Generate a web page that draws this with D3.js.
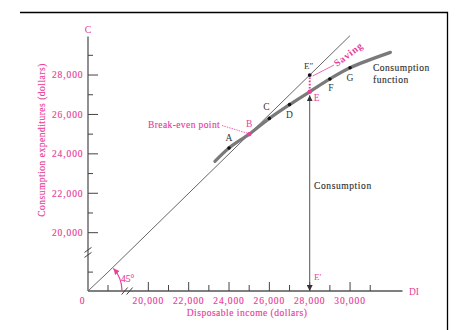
<!DOCTYPE html>
<html>
<head>
<meta charset="utf-8">
<script src="https://cdn.jsdelivr.net/npm/d3@7"></script>
<style>
  body { margin: 0; background: #fff; }
  svg { display: block; font-family: "Liberation Serif", "Times New Roman", serif; }
  text { paint-order: stroke; stroke-width: 0.15px; }
</style>
</head>
<body>
<svg id="chart"></svg>
<script>
const width = 464;
const height = 330;
const pink = "#e8409a";
const ink = "#333";

// consumption schedule (disposable income, consumption)
const pointNames = ["A", "B", "C", "D", "E", "F", "G"];
const incomes = [24000, 25000, 26000, 27000, 28000, 29000, 30000];
const spending = [24300, 25000, 25800, 26500, 27150, 27800, 28370];
// ends of the drawn consumption curve
const curveStart = [23300, 23620];
const curveEnd = [32000, 29150];

const xTickLabels = [20000, 22000, 24000, 26000, 28000, 30000];
const xMinorTicks = [18000, 21000, 23000, 25000, 27000, 29000, 31000];
const yTickLabels = [20000, 22000, 24000, 26000, 28000];
const yMinorTicks = [18000, 21000, 23000, 25000, 27000, 29000];

const svg = d3.select("#chart").attr("width", width).attr("height", height);

// broken axes: short stretch from 0 then full scale from 18,000
const x = d3.scaleLinear().domain([0, 18000, 32600]).range([88, 108, 402.5]);
const y = d3.scaleLinear().domain([0, 18000, 29950]).range([291, 272.1, 36.6]);

// frame (top and right only)
svg.append("path")
  .attr("d", "M20,12.5H447.5V330")
  .attr("fill", "none")
  .attr("stroke", "#000")
  .attr("stroke-width", 1.3);

const defs = svg.append("defs");
defs.append("marker")
  .attr("id", "arrow")
  .attr("viewBox", [0, 0, 10, 10])
  .attr("refX", 10)
  .attr("refY", 5)
  .attr("markerWidth", 6)
  .attr("markerHeight", 6)
  .attr("markerUnits", "userSpaceOnUse")
  .attr("orient", "auto-start-reverse")
  .append("path")
  .attr("d", "M0,0L10,5L0,10z")
  .attr("fill", ink);
defs.append("marker")
  .attr("id", "arrow-pink")
  .attr("viewBox", [0, 0, 10, 10])
  .attr("refX", 10)
  .attr("refY", 5)
  .attr("markerWidth", 6)
  .attr("markerHeight", 6)
  .attr("markerUnits", "userSpaceOnUse")
  .attr("orient", "auto")
  .append("path")
  .attr("d", "M0,0L10,5L0,10z")
  .attr("fill", pink);

// axes
svg.append("line")
  .attr("x1", x(0)).attr("x2", x(32600))
  .attr("y1", y(0)).attr("y2", y(0))
  .attr("stroke", "#555").attr("stroke-width", 1.3);
svg.append("line")
  .attr("x1", x(0)).attr("x2", x(0))
  .attr("y1", y(0)).attr("y2", y(29950))
  .attr("stroke", "#555").attr("stroke-width", 1.3);

svg.selectAll(".x-major")
  .data(xTickLabels)
  .enter()
  .append("line")
  .attr("x1", (d) => x(d)).attr("x2", (d) => x(d))
  .attr("y1", y(0)).attr("y2", y(0) - 9)
  .attr("stroke", "#444").attr("stroke-width", 1);
svg.selectAll(".x-minor")
  .data(xMinorTicks)
  .enter()
  .append("line")
  .attr("x1", (d) => x(d)).attr("x2", (d) => x(d))
  .attr("y1", y(0)).attr("y2", y(0) - 6)
  .attr("stroke", "#444").attr("stroke-width", 1);

svg.selectAll(".y-major")
  .data(yTickLabels)
  .enter()
  .append("line")
  .attr("x1", x(0)).attr("x2", x(0) + 10)
  .attr("y1", (d) => y(d)).attr("y2", (d) => y(d))
  .attr("stroke", "#444").attr("stroke-width", 1);
svg.selectAll(".y-minor")
  .data(yMinorTicks)
  .enter()
  .append("line")
  .attr("x1", x(0)).attr("x2", x(0) + 5)
  .attr("y1", (d) => y(d)).attr("y2", (d) => y(d))
  .attr("stroke", "#444").attr("stroke-width", 1);

const fmt = d3.format(",");

svg.selectAll(".x-label")
  .data(xTickLabels)
  .enter()
  .append("text")
  .attr("x", (d) => x(d))
  .attr("y", 303.5)
  .attr("text-anchor", "middle")
  .attr("font-size", "9.5px")
  .attr("letter-spacing", "0.9px")
  .attr("fill", pink)
  .attr("stroke", pink)
  .text((d) => fmt(d));

svg.selectAll(".y-label")
  .data(yTickLabels)
  .enter()
  .append("text")
  .attr("x", 83.5)
  .attr("y", (d) => y(d) + 3.3)
  .attr("text-anchor", "end")
  .attr("font-size", "9.5px")
  .attr("letter-spacing", "0.9px")
  .attr("fill", pink)
  .attr("stroke", pink)
  .text((d) => fmt(d));

// axis breaks
[-2.5, 2.5].forEach((o) => {
  svg.append("line")
    .attr("x1", x(19000) - 1 + o - 3).attr("y1", y(0) + 3.5)
    .attr("x2", x(19000) - 1 + o + 3).attr("y2", y(0) - 3.5)
    .attr("stroke", "#444").attr("stroke-width", 1);
  svg.append("line")
    .attr("x1", x(0) - 3.5).attr("y1", y(19000) + o + 2.5)
    .attr("x2", x(0) + 3.5).attr("y2", y(19000) + o - 2.5)
    .attr("stroke", "#444").attr("stroke-width", 1);
});

// axis titles
svg.append("text")
  .attr("x", x(0)).attr("y", 33)
  .attr("text-anchor", "middle")
  .attr("font-size", "10px")
  .attr("fill", pink)
  .text("C");
svg.append("text")
  .attr("x", 409).attr("y", 294.5)
  .attr("font-size", "9.5px")
  .attr("fill", pink)
  .text("DI");
svg.append("text")
  .attr("x", 82).attr("y", 303.5)
  .attr("text-anchor", "middle")
  .attr("font-size", "9.5px")
  .attr("fill", pink)
  .attr("stroke", pink)
  .text("0");
svg.append("text")
  .attr("x", 247).attr("y", 316)
  .attr("text-anchor", "middle")
  .attr("font-size", "9.5px")
  .attr("letter-spacing", "0.5px")
  .attr("fill", pink)
  .attr("stroke", pink)
  .text("Disposable income (dollars)");
svg.append("text")
  .attr("transform", "translate(45,140) rotate(-90)")
  .attr("text-anchor", "middle")
  .attr("font-size", "9.5px")
  .attr("letter-spacing", "0.5px")
  .attr("fill", pink)
  .attr("stroke", pink)
  .text("Consumption expenditures (dollars)");

// 45 degree line
const line = d3.line().x((d) => x(d[0])).y((d) => y(d[1]));
svg.append("path")
  .datum([[0, 0], [18000, 18000], [30000, 30000]])
  .attr("d", line)
  .attr("fill", "none")
  .attr("stroke", "#666")
  .attr("stroke-width", 1);

// 45 degree arc
const r = 34;
const arcPath = d3.path();
arcPath.arc(x(0), y(0), r, -0.02, -Math.PI / 4 + 0.06, true);
svg.append("path")
  .attr("d", arcPath.toString())
  .attr("fill", "none")
  .attr("stroke", pink)
  .attr("stroke-width", 1.2)
  .attr("marker-end", "url(#arrow-pink)");
svg.append("text")
  .attr("x", 121).attr("y", 282)
  .attr("font-size", "9.5px")
  .attr("fill", pink)
  .attr("stroke", pink)
  .text("45°");

// consumption function
const curvePts = [curveStart, ...incomes.map((d, i) => [d, spending[i]]), curveEnd];
svg.append("path")
  .datum(curvePts)
  .attr("d", line.curve(d3.curveCatmullRom.alpha(0.5)))
  .attr("fill", "none")
  .attr("stroke", "#7a7a7a")
  .attr("stroke-width", 3.2)
  .attr("stroke-linecap", "round");
line.curve(d3.curveLinear);

// consumption arrow E' -> E
const eIncome = incomes[4];
const eSpend = spending[4];
svg.append("line")
  .attr("x1", x(eIncome)).attr("x2", x(eIncome))
  .attr("y1", y(eSpend) + 3.5).attr("y2", y(0))
  .attr("stroke", "#555")
  .attr("stroke-width", 1)
  .attr("marker-start", "url(#arrow)")
  .attr("marker-end", "url(#arrow)");

// saving gap E -> E''
svg.append("line")
  .attr("x1", x(eIncome)).attr("x2", x(eIncome))
  .attr("y1", y(eSpend)).attr("y2", y(eIncome))
  .attr("stroke", pink)
  .attr("stroke-width", 2)
  .attr("stroke-dasharray", "1.6,1.6");

// leaders
svg.append("line")
  .attr("x1", x(eIncome) + 3).attr("y1", 76)
  .attr("x2", 334).attr("y2", 65)
  .attr("stroke", pink).attr("stroke-width", 0.8);
svg.append("line")
  .attr("x1", 222).attr("y1", 125.5)
  .attr("x2", x(25000) - 2).attr("y2", y(25000) - 1)
  .attr("stroke", pink).attr("stroke-width", 0.8)
  .attr("stroke-dasharray", "1.5,1");

// points
svg.selectAll(".pt")
  .data(incomes)
  .enter()
  .append("circle")
  .attr("cx", (d) => x(d))
  .attr("cy", (d, i) => y(spending[i]))
  .attr("r", (d, i) => (i === 1 || i === 4 ? 2.2 : 1.8))
  .attr("fill", (d, i) => (i === 1 || i === 4 ? pink : "#111"));
svg.append("circle")
  .attr("cx", x(eIncome)).attr("cy", y(eIncome))
  .attr("r", 1.9)
  .attr("fill", "#111");

// point labels
const labelOffsets = [[0, -7], [0, -7], [-3, -8], [0, 13], [7, 9], [1, 12], [0, 13]];
svg.selectAll(".pt-label")
  .data(pointNames)
  .enter()
  .append("text")
  .attr("x", (d, i) => x(incomes[i]) + labelOffsets[i][0])
  .attr("y", (d, i) => y(spending[i]) + labelOffsets[i][1])
  .attr("text-anchor", "middle")
  .attr("font-size", "9.5px")
  .attr("fill", (d, i) => (i === 1 || i === 4 ? pink : ink))
  .text((d) => d);

svg.append("text")
  .attr("x", x(eIncome) - 1).attr("y", 68.5)
  .attr("text-anchor", "middle")
  .attr("font-size", "9px")
  .attr("fill", ink)
  .text("E\u2033");
svg.append("text")
  .attr("x", 314).attr("y", 280)
  .attr("font-size", "9px")
  .attr("fill", pink)
  .text("E\u2032");

svg.append("text")
  .attr("x", 148).attr("y", 128)
  .attr("font-size", "9.5px")
  .attr("letter-spacing", "0.4px")
  .attr("fill", pink)
  .attr("stroke", pink)
  .text("Break-even point");

svg.append("text")
  .attr("transform", "translate(337,67) rotate(-37)")
  .attr("font-size", "10px")
  .attr("font-weight", "bold")
  .attr("letter-spacing", "0.8px")
  .attr("fill", pink)
  .text("Saving");

svg.append("text")
  .attr("x", 373).attr("y", 71)
  .attr("font-size", "9.5px")
  .attr("letter-spacing", "0.5px")
  .attr("fill", ink)
  .attr("stroke", ink)
  .text("Consumption");
svg.append("text")
  .attr("x", 373).attr("y", 83)
  .attr("font-size", "9.5px")
  .attr("letter-spacing", "0.5px")
  .attr("fill", ink)
  .attr("stroke", ink)
  .text("function");

svg.append("text")
  .attr("x", 314).attr("y", 189)
  .attr("font-size", "9.5px")
  .attr("letter-spacing", "0.6px")
  .attr("fill", ink)
  .attr("stroke", ink)
  .text("Consumption");
</script>
</body>
</html>
